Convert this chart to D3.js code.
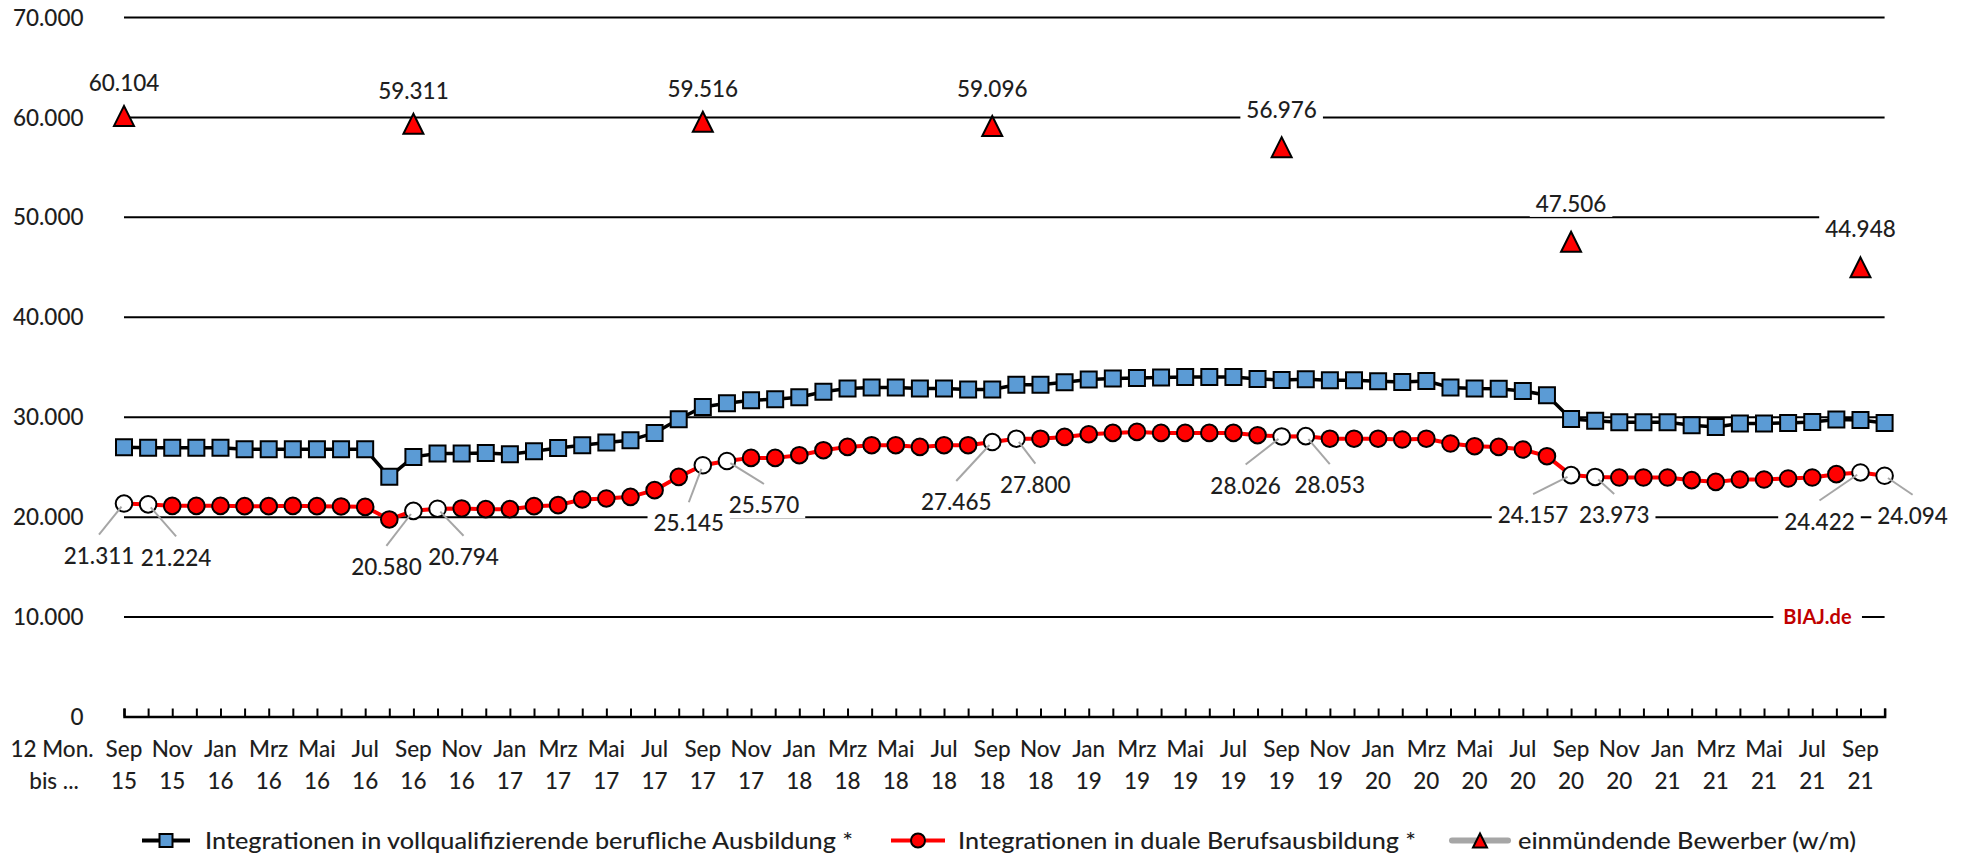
<!DOCTYPE html>
<html><head><meta charset="utf-8">
<script src="https://cdn.jsdelivr.net/npm/d3@7"></script>
<style>
body{margin:0;background:#fff}
svg{display:block}
text{font-family:Lato,"Open Sans",sans-serif;font-weight:500}
</style>
</head><body>
<svg id="chart" width="1968" height="858"></svg>
<script>
// ---------------- data ----------------
const categories = [
 "Sep 15","Okt 15","Nov 15","Dez 15","Jan 16","Feb 16","Mrz 16","Apr 16","Mai 16","Jun 16","Jul 16","Aug 16",
 "Sep 16","Okt 16","Nov 16","Dez 16","Jan 17","Feb 17","Mrz 17","Apr 17","Mai 17","Jun 17","Jul 17","Aug 17",
 "Sep 17","Okt 17","Nov 17","Dez 17","Jan 18","Feb 18","Mrz 18","Apr 18","Mai 18","Jun 18","Jul 18","Aug 18",
 "Sep 18","Okt 18","Nov 18","Dez 18","Jan 19","Feb 19","Mrz 19","Apr 19","Mai 19","Jun 19","Jul 19","Aug 19",
 "Sep 19","Okt 19","Nov 19","Dez 19","Jan 20","Feb 20","Mrz 20","Apr 20","Mai 20","Jun 20","Jul 20","Aug 20",
 "Sep 20","Okt 20","Nov 20","Dez 20","Jan 21","Feb 21","Mrz 21","Apr 21","Mai 21","Jun 21","Jul 21","Aug 21",
 "Sep 21","Okt 21"
];
const vollqualifizierend = [
 26950,26900,26900,26900,26900,26750,26750,26750,26750,26750,26750,23980,
 25980,26320,26320,26380,26250,26550,26880,27150,27420,27650,28380,29750,
 30980,31350,31650,31750,31950,32500,32820,32920,32920,32820,32820,32720,
 32720,33200,33200,33450,33720,33820,33880,33920,33980,33980,33980,33780,
 33680,33750,33650,33650,33550,33480,33580,32920,32820,32800,32580,32150,
 29780,29600,29450,29450,29450,29150,28980,29320,29320,29380,29480,29720,
 29680,29380
];
const dual = [
 21311,21224,21080,21080,21080,21050,21050,21080,21050,21020,20980,19720,
 20580,20794,20820,20750,20750,21050,21150,21720,21820,21980,22650,23980,
 25145,25570,25880,25880,26150,26650,26980,27150,27150,26980,27150,27150,
 27465,27800,27800,27980,28250,28380,28480,28380,28380,28380,28380,28150,
 28026,28053,27800,27800,27800,27720,27800,27320,27050,26980,26720,26050,
 24157,23973,23920,23920,23920,23650,23480,23720,23720,23820,23920,24250,
 24422,24094
];
const bewerber = [
 60104,null,null,null,null,null,null,null,null,null,null,null,
 59311,null,null,null,null,null,null,null,null,null,null,null,
 59516,null,null,null,null,null,null,null,null,null,null,null,
 59096,null,null,null,null,null,null,null,null,null,null,null,
 56976,null,null,null,null,null,null,null,null,null,null,null,
 47506,null,null,null,null,null,null,null,null,null,null,null,
 44948,null
];
const dualLabelIdx = [0,1,12,13,24,25,36,37,48,49,60,61,72,73];
const yTicks = [0,10000,20000,30000,40000,50000,60000,70000];
const seriesNames = [
 "Integrationen in vollqualifizierende berufliche Ausbildung *",
 "Integrationen in duale Berufsausbildung *",
 "einmündende Bewerber (w/m)"
];
const axisTitle = ["12 Mon.","bis ..."];
const sourceText = "BIAJ.de";

// ---------------- layout (label offsets in px, legend geometry) ----------------
const dualLabelOffsets = [[-25,52],[28,53],[-27,56],[26,48],[-14,58],[37,44],[-36,60],[19,46],[-36,49],[24,49],[-38,40],[19,38],[-41,49],[28,40]];
const bewerberLabelDy = [-33,-33,-33,-37,-37,-38,-38];
const legendTextX = [205,958,1518];
const legendTextW = [648,458,338];

// ---------------- chart ----------------
const svg = d3.select("#chart");
const fs = 22.5;
const ink = "#1e1e1e";
const loc = d3.formatLocale({decimal:",",thousands:".",grouping:[3],currency:["","€"]});
const fmt = loc.format(",d");

const x = d3.scalePoint().domain(categories).range([124,1884.6]);
const y = d3.scaleLinear().domain([0,70000]).range([716.5,17]);
const X0 = x.range()[0], X1 = x.range()[1];

// gridlines + y labels
const gy = svg.append("g").attr("transform",`translate(${X0},0)`)
  .call(d3.axisLeft(y).tickValues(yTicks).tickSize(-(X1-X0)).tickPadding(40.5).tickFormat(fmt));
gy.select(".domain").remove();
gy.selectAll(".tick line").attr("stroke","#000").attr("stroke-width",2);
gy.selectAll(".tick text").attr("font-size",fs).attr("font-family","Lato").style("fill",ink).attr("dy","0.36em");

// bottom axis
const gx = svg.append("g").attr("transform",`translate(0,${y(0)})`)
  .call(d3.axisBottom(x).tickSize(-8).tickFormat(()=>""));
gx.select(".domain").attr("stroke","#000").attr("stroke-width",2.5);
gx.selectAll(".tick line").attr("stroke","#000").attr("stroke-width",2);

// x labels
const xl = svg.append("g");
categories.forEach((c,i)=>{
  if(i%2!==0) return;
  const [m,yr] = c.split(" ");
  const t = xl.append("text").attr("text-anchor","middle").attr("font-size",fs).style("fill",ink);
  t.append("tspan").attr("x",x(c)).attr("y",757).text(m);
  t.append("tspan").attr("x",x(c)).attr("y",789).text(yr);
});
const at = svg.append("text").attr("text-anchor","middle").attr("font-size",fs).style("fill",ink);
at.append("tspan").attr("x",52).attr("y",757).text(axisTitle[0]);
at.append("tspan").attr("x",54).attr("y",789).text(axisTitle[1]);

// series 1 line + squares
const line = d3.line().x((d,i)=>x(categories[i])).y(d=>y(d));
svg.append("path").datum(vollqualifizierend).attr("d",line)
  .attr("fill","none").attr("stroke","#000").attr("stroke-width",3.5).attr("stroke-linejoin","round");
svg.append("g").selectAll("path").data(vollqualifizierend).join("path")
  .attr("d",d3.symbol(d3.symbolSquare,256))
  .attr("transform",(d,i)=>`translate(${x(categories[i])},${y(d)})`)
  .attr("fill","#5B9BD5").attr("stroke","#000").attr("stroke-width",2);

// series 2 line + circles
svg.append("path").datum(dual).attr("d",line)
  .attr("fill","none").attr("stroke","#FF0000").attr("stroke-width",4).attr("stroke-linejoin","round");
svg.append("g").selectAll("circle").data(dual).join("circle")
  .attr("cx",(d,i)=>x(categories[i])).attr("cy",d=>y(d)).attr("r",8.3)
  .attr("fill",(d,i)=>dualLabelIdx.includes(i)?"#fff":"#FF0000")
  .attr("stroke","#000").attr("stroke-width",2);

// series 3 triangles
const triType = {draw(ctx,size){const w=Math.sqrt(size);ctx.moveTo(0,-w/2);ctx.lineTo(w/2,w/2);ctx.lineTo(-w/2,w/2);ctx.closePath();}};
const bewPts = bewerber.map((v,i)=>({v,i})).filter(d=>d.v!==null);
svg.append("g").selectAll("path").data(bewPts).join("path")
  .attr("d",d3.symbol(triType,400))
  .attr("transform",d=>`translate(${x(categories[d.i])},${y(d.v)})`)
  .attr("fill","#FF0000").attr("stroke","#000").attr("stroke-width",2).attr("stroke-linejoin","miter");

// label helper with white background
const labG = svg.append("g");
function label(cx,cy,txt,opts={}){
  const g = labG.append("g");
  const t = g.append("text").attr("x",cx).attr("y",cy).attr("dy","0.36em")
    .attr("text-anchor","middle").attr("font-size",opts.size||fs).style("fill",opts.color||ink).text(txt);
  if(opts.weight) t.style("font-weight",opts.weight);
  const b = t.node().getBBox();
  const px = opts.padX==null?6:opts.padX;
  g.insert("rect","text").attr("x",b.x-px).attr("y",b.y).attr("width",b.width+2*px).attr("height",b.height).attr("fill","#fff");
}

// leader lines + dual labels
dualLabelIdx.forEach((idx,k)=>{
  const px = x(categories[idx]), py = y(dual[idx]);
  const lx = px+dualLabelOffsets[k][0], ly = py+dualLabelOffsets[k][1];
  const ex = lx, ey = ly-21;
  const dx = ex-px, dy = ey-py, L = Math.hypot(dx,dy);
  labG.append("line").attr("x1",px+dx/L*4).attr("y1",py+dy/L*4).attr("x2",ex).attr("y2",ey)
    .attr("stroke","#A6A6A6").attr("stroke-width",2);
});
dualLabelIdx.forEach((idx,k)=>{
  const px = x(categories[idx]), py = y(dual[idx]);
  label(px+dualLabelOffsets[k][0], py+dualLabelOffsets[k][1], fmt(dual[idx]));
});
bewPts.forEach((d,k)=>{
  label(x(categories[d.i]), y(d.v)+bewerberLabelDy[k], fmt(d.v));
});

// source
label(1817.5, y(10000), sourceText, {size:20, weight:"bold", color:"#C00000", padX:10});

// legend
const lg = svg.append("g");
const ly0 = 840.5;
lg.append("line").attr("x1",142).attr("x2",190).attr("y1",ly0).attr("y2",ly0).attr("stroke","#000").attr("stroke-width",4);
lg.append("path").attr("d",d3.symbol(d3.symbolSquare,169)).attr("transform",`translate(166,${ly0})`)
  .attr("fill","#5B9BD5").attr("stroke","#000").attr("stroke-width",2);
lg.append("line").attr("x1",891).attr("x2",945).attr("y1",ly0).attr("y2",ly0).attr("stroke","#FF0000").attr("stroke-width",4);
lg.append("circle").attr("cx",918).attr("cy",ly0).attr("r",7).attr("fill","#FF0000").attr("stroke","#000").attr("stroke-width",2);
lg.append("line").attr("x1",1452).attr("x2",1508).attr("y1",ly0).attr("y2",ly0).attr("stroke","#A6A6A6").attr("stroke-width",6).attr("stroke-linecap","round");
lg.append("path").attr("d",d3.symbol(triType,196)).attr("transform",`translate(1480,${ly0})`)
  .attr("fill","#FF0000").attr("stroke","#000").attr("stroke-width",2);
seriesNames.forEach((s,i)=>{
  lg.append("text").attr("x",legendTextX[i]).attr("y",ly0).attr("dy","0.36em").attr("font-size",fs)
    .attr("textLength",legendTextW[i]).attr("lengthAdjust","spacingAndGlyphs").style("fill",ink).text(s);
});
</script>
</body></html>
